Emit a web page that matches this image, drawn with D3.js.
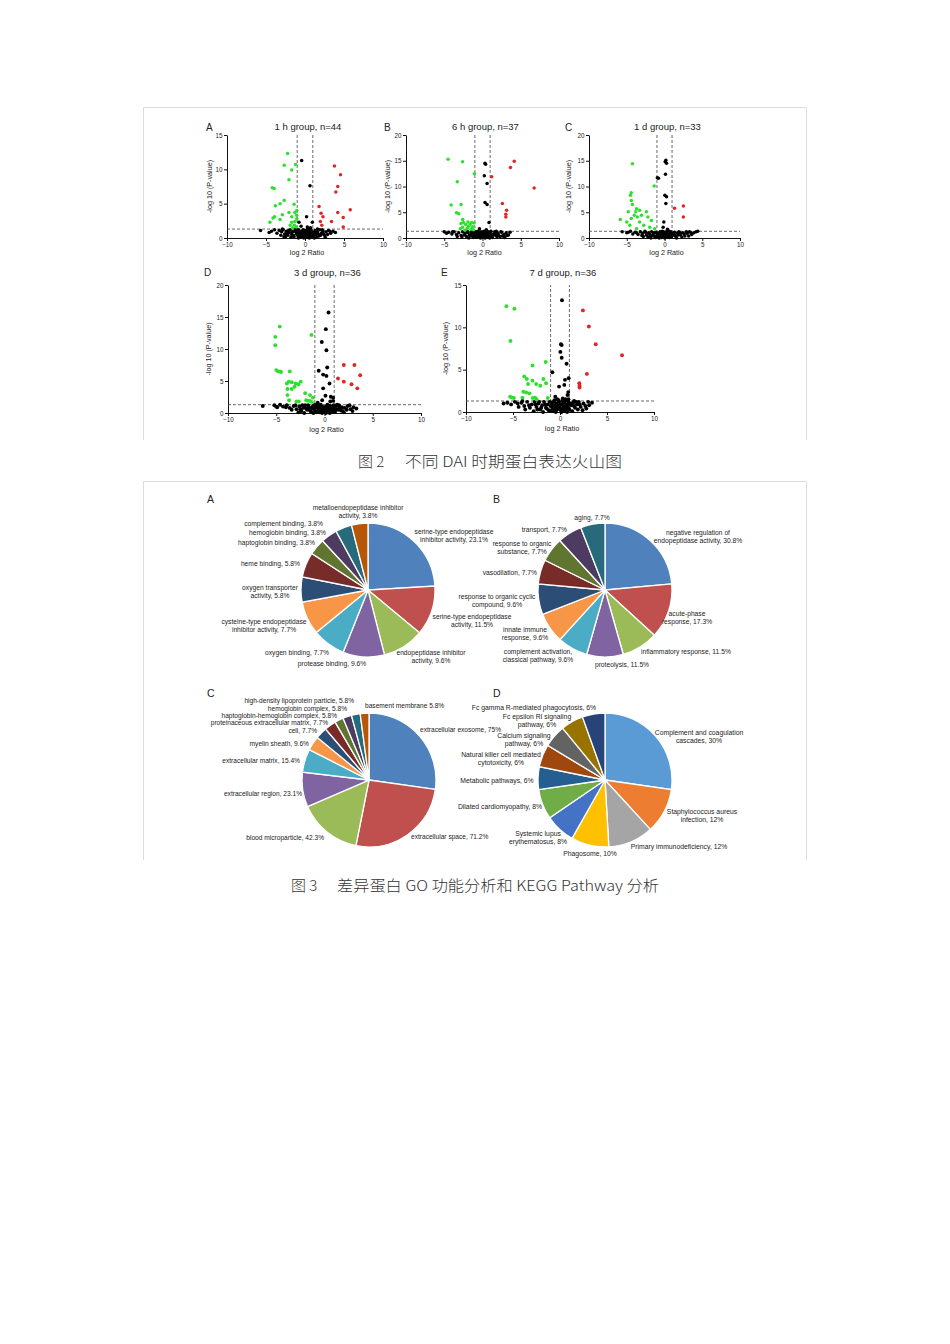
<!DOCTYPE html>
<html>
<head>
<meta charset="utf-8">
<script src="https://cdn.jsdelivr.net/npm/d3@7"></script>
<style>
  body { margin: 0; background: #fff; }
  svg { display: block; }
</style>
</head>
<body>
<script>
// ---------- Figure 2 data: volcano plots ----------
const volcanoLetters = ["A", "B", "C", "D", "E"];
const volcanoTitles = ["1 h group, n=44", "6 h group, n=37", "1 d group, n=33", "3 d group, n=36", "7 d group, n=36"];
const volcanoYMax = [15, 20, 20, 20, 15];
const xTicks = [-10, -5, 0, 5, 10];
const foldCut = 1;        // |log2 ratio| threshold
const pCut = 1.3;         // -log10(0.05)

const greenA = [[-2.23,12.3],[-2.66,10.6],[-1.2,10.7],[-1.7,9.9],[-2.06,8.5],[-4.2,7.3],[-3.95,7.2],[-2.66,5.5],[-3.2,5.0],[-3.8,4.7],[-1.4,4.9],[-1.05,4.0],[-2.06,3.7],[-2.9,3.4],[-1.3,3.7],[-3.9,3.1],[-4.1,2.9],[-1.7,3.1],[-1.07,3.3],[-4.5,2.3],[-3.2,2.7],[-1.7,2.3],[-1.3,2.4],[-1.9,1.85],[-1.37,1.85],[-1.05,2.8],[-1.1,1.6],[-1.6,1.5]];
const redA = [[3.78,10.5],[4.55,9.2],[4.2,7.5],[3.95,6.7],[1.8,4.6],[5.8,4.1],[4.2,3.7],[2.06,3.6],[2.3,3.1],[4.9,3.0],[1.97,2.4],[3.4,2.4],[2.15,1.85],[4.9,1.6]];
const blackA = [[-0.43,11.3],[0.64,7.6],[0.2,3.1],[-0.77,2.3],[0.94,2.3],[-0.5,1.7],[0.3,1.6],[0.7,1.5],
  [-5.7,1.1],[-4.6,0.8],[-4.3,1.0],[-3.9,1.2],[-3.6,0.7],[-3.3,1.1],[-3.0,0.9],[-2.8,1.2],[-2.6,0.6],[-2.4,1.0],[-2.2,0.4],[-2.0,0.8],[-1.9,1.2],[-1.7,0.5],[-1.6,0.9],[-1.4,0.2],[-1.3,1.1],[-1.1,0.6],[-1.0,0.9],[-0.9,0.3],[-0.8,1.2],[-0.7,0.7],[-0.6,0.1],[-0.5,0.5],[-0.4,1.0],[-0.3,0.3],[-0.2,0.8],[-0.1,0.4],[0.0,1.1],[0.1,0.2],[0.2,0.6],[0.3,0.9],[0.4,0.4],[0.5,1.2],[0.6,0.2],[0.7,0.7],[0.8,1.0],[0.9,0.5],[1.0,0.3],[1.1,0.8],[1.3,1.1],[1.4,0.5],[1.6,0.9],[1.8,0.3],[1.9,1.2],[2.1,0.7],[2.3,1.0],[2.5,0.4],[2.7,0.9],[3.0,1.1],[3.3,0.7],[3.6,1.0],[3.9,0.8],[-1.2,1.3],[-2.9,1.3],[1.6,1.3],
  [-2.5,0.2],[-2.3,0.7],[-2.1,1.1],[-1.8,0.1],[-1.5,0.4],[-1.2,0.9],[-0.95,0.5],[-0.85,0.0],[-0.65,0.9],[-0.55,0.3],[-0.35,0.6],[-0.25,1.2],[-0.15,0.0],[-0.05,0.7],[0.05,0.5],[0.15,1.0],[0.25,0.1],[0.35,0.6],[0.45,0.9],[0.55,0.0],[0.65,0.5],[0.75,1.2],[0.85,0.3],[0.95,0.8],[1.05,0.1],[1.2,0.5],[1.35,0.8],[1.5,0.1],[1.7,0.6],[2.0,0.4],[2.2,1.2],[2.4,0.6],[2.6,0.1],[2.9,0.5],[3.2,1.0],[-3.1,0.4],[-2.7,0.2],[-1.0,1.2],[0.3,1.3],[1.2,0.0]];

const greenB = [[-4.5,15.3],[-2.6,14.8],[-1.06,12.5],[-3.3,10.9],[-4.1,6.4],[-2.8,6.5],[-3.4,4.9],[-3.1,4.7],[-2.6,3.6],[-2.8,2.8],[-2.5,3.0],[-2.2,2.6],[-1.9,3.1],[-1.6,2.7],[-1.3,2.2],[-2.6,2.1],[-2.0,1.9],[-1.5,1.7],[-1.2,1.6],[-2.9,1.8],[-2.3,1.5],[-1.8,2.3],[-1.1,2.9],[-1.4,3.0]];
const redB = [[4.15,14.9],[3.65,13.7],[1.2,11.9],[6.75,9.7],[2.6,6.7],[3.15,5.4],[3.05,4.6],[3.05,4.1]];
const blackB = [[0.33,14.5],[0.4,14.3],[0.24,12.1],[0.6,10.6],[0.33,6.9],[0.6,6.5],[0.85,3.0],[-0.4,1.8],[0.5,1.6],
  [-5.0,1.2],[-4.7,0.9],[-4.4,1.1],[-4.0,0.8],[-3.7,1.2],[-3.4,0.7],[-3.1,1.0],[-2.8,0.5],[-2.6,1.2],[-2.3,0.8],[-2.1,0.3],[-1.9,1.0],[-1.7,0.6],[-1.5,1.2],[-1.3,0.4],[-1.1,0.9],[-1.0,0.2],[-0.9,0.7],[-0.8,1.1],[-0.6,0.4],[-0.5,0.9],[-0.4,0.1],[-0.3,0.6],[-0.2,1.2],[-0.1,0.3],[0.0,0.8],[0.1,0.5],[0.2,1.0],[0.3,0.2],[0.4,0.7],[0.5,1.1],[0.6,0.4],[0.7,0.9],[0.8,0.2],[0.9,0.6],[1.0,1.0],[1.2,0.4],[1.4,0.8],[1.6,1.2],[1.8,0.5],[2.0,0.9],[2.3,0.3],[2.5,1.1],[2.8,0.7],[3.1,1.0],[3.4,0.6],[3.6,1.1],[-2.0,1.3],[1.1,1.3],
  [-2.7,0.2],[-2.4,0.6],[-2.2,1.1],[-1.8,0.0],[-1.6,0.4],[-1.4,0.9],[-1.2,0.1],[-0.95,0.5],[-0.85,1.2],[-0.7,0.2],[-0.55,0.6],[-0.45,1.1],[-0.25,0.0],[-0.15,0.8],[0.05,0.4],[0.15,1.2],[0.25,0.6],[0.35,0.0],[0.45,0.9],[0.55,0.3],[0.65,0.7],[0.75,1.2],[0.85,0.4],[0.95,0.0],[1.1,0.6],[1.3,0.1],[1.5,0.6],[1.7,1.0],[1.9,0.2],[2.1,0.6],[2.4,1.2],[2.6,0.4],[2.9,0.1],[3.2,0.5],[-3.3,0.3],[-3.9,1.2],[-0.6,1.3],[0.2,1.3],[-1.3,1.3],[1.8,1.3]];

const greenC = [[-4.25,14.4],[-1.37,10.1],[-4.4,8.8],[-4.5,8.3],[-4.4,7.3],[-4.25,6.5],[-4.8,5.1],[-3.7,5.7],[-3.8,5.1],[-3.3,5.4],[-2.4,5.1],[-5.85,3.6],[-5.0,3.1],[-4.0,4.4],[-3.6,4.1],[-3.05,4.4],[-4.4,3.8],[-3.3,3.1],[-2.2,4.1],[-1.73,3.4],[-2.74,2.5],[-1.95,2.1],[-4.6,2.5],[-1.3,1.8],[-3.7,1.8]];
const redC = [[1.33,5.8],[2.5,6.2],[2.5,4.1]];
const blackC = [[0.18,15.1],[0.09,14.8],[0.27,14.5],[-0.95,11.7],[-0.8,11.6],[0.13,12.4],[0.05,8.3],[0.27,8.0],[0.18,6.7],[-0.09,3.1],[-0.18,2.1],[0.4,1.7],
  [-5.6,1.2],[-5.0,1.0],[-4.5,1.3],[-4.2,0.8],[-3.9,1.1],[-3.5,0.7],[-3.2,1.2],[-2.9,0.9],[-2.6,1.3],[-2.4,0.6],[-2.1,1.0],[-1.9,0.4],[-1.7,1.2],[-1.5,0.8],[-1.3,0.3],[-1.1,1.1],[-1.0,0.6],[-0.9,0.2],[-0.8,0.9],[-0.6,1.2],[-0.5,0.5],[-0.4,0.1],[-0.3,0.8],[-0.2,1.1],[-0.1,0.4],[0.0,0.7],[0.1,0.2],[0.2,1.0],[0.3,0.5],[0.4,1.2],[0.5,0.3],[0.6,0.8],[0.7,1.1],[0.8,0.4],[0.9,0.9],[1.1,0.6],[1.3,1.1],[1.5,0.3],[1.7,0.9],[1.9,1.2],[2.1,0.6],[2.4,1.0],[2.7,0.4],[3.0,0.9],[3.3,1.2],[3.6,0.7],[3.9,1.0],[4.2,1.2],[4.4,1.3],
  [-2.8,0.3],[-2.5,1.1],[-2.2,0.2],[-2.0,0.8],[-1.8,0.0],[-1.6,0.5],[-1.4,1.0],[-1.2,0.1],[-0.95,0.9],[-0.85,0.4],[-0.7,0.0],[-0.55,0.9],[-0.45,0.3],[-0.25,0.5],[-0.15,1.2],[0.05,0.0],[0.15,0.6],[0.25,1.2],[0.35,0.2],[0.45,0.7],[0.55,1.0],[0.65,0.1],[0.75,0.6],[0.85,1.2],[0.95,0.3],[1.2,0.9],[1.4,0.5],[1.6,0.0],[1.8,0.6],[2.0,1.0],[2.3,0.2],[2.6,0.8],[2.9,1.2],[3.2,0.4],[3.5,1.0],[-3.0,0.5],[-3.7,1.0],[-4.8,1.1],[-0.3,1.3],[0.6,1.3]];

const greenD = [[-4.64,13.5],[-5.1,11.9],[-5.1,10.6],[-1.35,12.2],[-5.0,6.7],[-4.8,6.5],[-4.6,6.5],[-4.5,6.4],[-3.6,6.5],[-3.9,4.6],[-3.7,4.9],[-3.4,4.8],[-3.0,4.6],[-2.46,4.9],[-2.7,4.5],[-3.84,3.75],[-3.4,3.75],[-3.1,4.1],[-2.0,3.1],[-1.5,2.8],[-3.84,2.8],[-3.67,2.0],[-2.9,1.8],[-2.66,1.8],[-1.9,2.0],[-1.7,1.9],[-1.5,1.9],[-1.3,1.7],[-1.2,2.4]];
const redD = [[2.0,7.5],[3.1,7.5],[3.7,5.9],[1.4,5.4],[2.0,4.9],[2.8,4.5],[3.4,3.85]];
const blackD = [[0.42,15.7],[0.14,13.1],[-0.28,11.1],[0.2,9.8],[0.28,7.1],[-0.6,6.6],[-0.14,6.0],[0.2,5.8],[0.52,4.6],[-0.14,3.85],[0.1,2.7],[0.66,2.55],[0.9,2.4],[-0.24,2.0],[0.6,1.8],[-0.7,1.6],[0.9,1.9],
  [-6.4,1.1],[-5.2,1.2],[-4.9,0.9],[-4.6,1.3],[-4.3,1.0],[-3.9,1.2],[-3.6,0.8],[-3.2,1.1],[-2.9,0.6],[-2.6,1.0],[-2.4,0.3],[-2.2,0.8],[-2.0,1.2],[-1.8,0.5],[-1.6,0.9],[-1.4,0.2],[-1.2,1.1],[-1.1,0.6],[-0.9,0.3],[-0.8,0.9],[-0.7,1.2],[-0.6,0.5],[-0.5,0.1],[-0.4,0.8],[-0.3,1.1],[-0.2,0.4],[-0.1,0.7],[0.0,0.2],[0.1,1.0],[0.2,0.5],[0.3,1.3],[0.4,0.3],[0.5,0.8],[0.6,1.1],[0.7,0.4],[0.8,0.9],[0.9,0.2],[1.0,0.7],[1.2,1.1],[1.4,0.5],[1.6,0.9],[1.9,0.3],[2.1,0.8],[2.4,1.1],[2.7,0.6],[3.0,0.9],[3.3,0.7],[-1.0,1.3],[1.3,1.3],
  [-2.7,0.1],[-2.5,0.6],[-2.3,1.2],[-2.1,0.0],[-1.9,0.7],[-1.7,1.2],[-1.5,0.4],[-1.3,0.8],[-1.15,0.0],[-0.95,1.0],[-0.85,0.1],[-0.65,0.7],[-0.55,1.0],[-0.45,0.3],[-0.25,0.0],[-0.15,0.9],[0.05,0.6],[0.15,0.0],[0.25,0.8],[0.35,0.4],[0.45,1.1],[0.55,0.0],[0.65,0.6],[0.75,1.0],[0.85,0.5],[0.95,1.2],[1.1,0.2],[1.3,0.6],[1.5,1.2],[1.7,0.4],[1.8,0.9],[2.0,0.1],[2.3,0.5],[2.6,1.2],[2.9,0.3],[-3.0,1.2],[-3.4,0.5],[-4.0,0.9],[-5.0,1.0],[-0.4,1.3]];

const greenE = [[-5.7,12.5],[-4.85,12.2],[-5.27,8.4],[-2.93,5.5],[-1.52,5.9],[-3.8,4.2],[-3.53,3.9],[-2.93,3.7],[-1.77,3.9],[-2.54,3.3],[-2.1,3.1],[-1.48,3.4],[-3.4,3.3],[-3.9,2.4],[-3.6,2.3],[-3.25,2.2],[-5.3,1.8],[-5.1,1.7],[-4.9,1.65],[-4.0,1.7],[-2.9,1.65],[-2.65,1.7],[-2.5,1.5],[-1.3,1.65]];
const redE = [[2.44,12.0],[3.07,10.1],[3.8,8.0],[6.6,6.7],[2.86,4.5],[2.05,3.4],[2.08,3.1],[2.08,2.9]];
const blackE = [[0.21,13.2],[0.1,8.0],[0.18,7.9],[0.04,7.1],[0.18,6.4],[0.7,5.7],[-0.81,4.7],[0.92,4.0],[0.53,3.8],[-0.1,3.0],[0.46,3.2],[0.88,2.35],[0.8,2.0],[-0.5,1.8],[0.3,1.6],[0.9,1.5],[-0.3,1.5],
  [-6.0,1.0],[-5.6,1.1],[-5.2,0.9],[-4.8,1.2],[-4.5,1.0],[-4.1,1.1],[-3.8,0.7],[-3.5,1.2],[-3.2,0.5],[-3.0,0.9],[-2.7,1.2],[-2.5,0.6],[-2.3,1.0],[-2.1,0.3],[-1.9,0.8],[-1.7,1.2],[-1.5,0.5],[-1.3,0.9],[-1.2,0.2],[-1.0,0.7],[-0.9,1.1],[-0.8,0.4],[-0.7,0.8],[-0.6,0.1],[-0.5,0.6],[-0.4,1.0],[-0.3,0.3],[-0.2,0.8],[-0.1,1.2],[0.0,0.5],[0.1,0.2],[0.2,0.9],[0.3,0.4],[0.4,1.1],[0.5,0.6],[0.6,0.2],[0.7,0.9],[0.8,0.5],[0.9,1.2],[1.0,0.3],[1.2,0.8],[1.4,1.1],[1.6,0.5],[1.8,0.9],[2.0,1.2],[2.2,0.6],[2.5,1.0],[2.8,0.4],[3.1,0.8],[3.4,1.1],[-4.0,1.3],[1.5,1.3],
  [-2.8,0.1],[-2.6,0.9],[-2.4,0.3],[-2.2,1.2],[-2.0,0.5],[-1.8,0.0],[-1.6,0.9],[-1.4,0.4],[-1.1,1.2],[-0.95,0.1],[-0.85,0.7],[-0.65,1.2],[-0.55,0.3],[-0.45,0.0],[-0.25,0.6],[-0.15,1.4],[0.05,0.9],[0.15,0.0],[0.25,1.3],[0.35,0.7],[0.45,0.1],[0.55,1.3],[0.65,0.5],[0.75,0.0],[0.85,0.8],[0.95,0.4],[1.1,1.0],[1.3,0.1],[1.5,0.7],[1.7,1.2],[1.9,0.3],[2.1,0.9],[2.4,0.2],[2.7,0.7],[3.0,1.2],[-3.3,0.8],[-3.7,0.3],[-4.4,0.6],[-0.6,1.4],[0.6,1.5]];

const volcanoGreen = [greenA, greenB, greenC, greenD, greenE];
const volcanoRed = [redA, redB, redC, redD, redE];
const volcanoBlack = [blackA, blackB, blackC, blackD, blackE];

// ---------- Figure 3 data: GO / KEGG pies ----------
const pieAValues = [23.1, 11.5, 9.6, 9.6, 7.7, 7.7, 5.8, 5.8, 3.8, 3.8, 3.8, 3.8];
const pieALabels = ["serine-type endopeptidase|inhibitor activity, 23.1%", "serine-type endopeptidase|activity, 11.5%", "endopeptidase inhibitor|activity, 9.6%", "protease binding, 9.6%", "oxygen binding, 7.7%", "cysteine-type endopeptidase|inhibitor activity, 7.7%", "oxygen transporter|activity, 5.8%", "heme binding, 5.8%", "haptoglobin binding, 3.8%", "hemoglobin binding, 3.8%", "complement binding, 3.8%", "metalloendopeptidase inhibitor|activity, 3.8%"];

const pieBValues = [30.8, 17.3, 11.5, 11.5, 9.6, 9.6, 9.6, 7.7, 7.7, 7.7, 7.7];
const pieBLabels = ["negative regulation of|endopeptidase activity, 30.8%", "acute-phase|response, 17.3%", "inflammatory response, 11.5%", "proteolysis, 11.5%", "complement activation,|classical pathway, 9.6%", "innate immune|response, 9.6%", "response to organic cyclic|compound, 9.6%", "vasodilation, 7.7%", "response to organic|substance, 7.7%", "transport, 7.7%", "aging, 7.7%"];

const pieCValues = [75, 71.2, 42.3, 23.1, 15.4, 9.6, 7.7, 7.7, 5.8, 5.8, 5.8, 5.8];
const pieCLabels = ["extracellular exosome, 75%", "extracellular space, 71.2%", "blood microparticle, 42.3%", "extracellular region, 23.1%", "extracellular matrix, 15.4%", "myelin sheath, 9.6%", "cell, 7.7%", "proteinaceous extracellular matrix, 7.7%", "haptoglobin-hemoglobin complex, 5.8%", "hemoglobin complex, 5.8%", "high-density lipoprotein particle, 5.8%", "basement membrane 5.8%"];

const pieDValues = [30, 12, 12, 10, 8, 8, 6, 6, 6, 6, 6];
const pieDLabels = ["Complement and coagulation|cascades, 30%", "Staphylococcus aureus|infection, 12%", "Primary immunodeficiency, 12%", "Phagosome, 10%", "Systemic lupus|erythematosus, 8%", "Dilated cardiomyopathy, 8%", "Metabolic pathways, 6%", "Natural killer cell mediated|cytotoxicity, 6%", "Calcium signaling|pathway, 6%", "Fc epsilon RI signaling|pathway, 6%", "Fc gamma R-mediated phagocytosis, 6%"];

// office-style palettes
const officeOld = ["#4F81BD", "#C0504D", "#9BBB59", "#8064A2", "#4BACC6", "#F79646", "#2C4D75", "#772C2A", "#5F7530", "#4D3B62", "#276A7C", "#B65708"];
const officeNew = ["#5B9BD5", "#ED7D31", "#A5A5A5", "#FFC000", "#4472C4", "#70AD47", "#255E91", "#9E480E", "#636363", "#997300", "#264478"];

const captions2 = ["图 2", "不同 DAI 时期蛋白表达火山图"];
const captions3 = ["图 3", "差异蛋白 GO 功能分析和 KEGG Pathway 分析"];

// ---------- layout ----------
const W = 950, H = 1344;
const svg = d3.select("body").append("svg").attr("width", W).attr("height", H);
const font = "'Liberation Sans', Arial, sans-serif";
const txtColor = "#222";

// frames around the two figures
function frame(x0, x1, y0, y1) {
  const g = svg.append("g").attr("stroke", "#dcdcdc").attr("fill", "none");
  g.append("path").attr("d", `M${x0},${y1}V${y0}H${x1}V${y1}`);
}
frame(143.5, 806.5, 107.5, 440);
frame(143.5, 806.5, 481.5, 860);

// volcano panels (screen boxes)
const volcanoBoxes = [
  { x0: 227, x1: 383, y0: 238, y1: 135, lx: 206, ly: 131, yl: 212, ty: 130, xl: 255 },
  { x0: 406, x1: 559, y0: 238, y1: 135, lx: 384, ly: 131, yl: 390, ty: 130, xl: 255 },
  { x0: 589, x1: 740, y0: 238, y1: 135, lx: 565, ly: 131, yl: 571, ty: 130, xl: 255 },
  { x0: 228, x1: 421, y0: 413, y1: 285, lx: 204, ly: 276, yl: 211, ty: 276, xl: 432 },
  { x0: 466, x1: 654, y0: 412, y1: 285, lx: 441, ly: 276, yl: 448, ty: 276, xl: 431 }
];

volcanoBoxes.forEach((b, i) => {
  const g = svg.append("g");
  const x = d3.scaleLinear().domain([-10, 10]).range([b.x0, b.x1]);
  const y = d3.scaleLinear().domain([0, volcanoYMax[i]]).range([b.y0, b.y1]);
  const yTicks = d3.range(0, volcanoYMax[i] + 1, 5);

  const xa = g.append("g").attr("transform", `translate(0,${b.y0})`)
    .call(d3.axisBottom(x).tickValues(xTicks).tickSize(3).tickSizeOuter(0).tickPadding(1.5));
  const ya = g.append("g").attr("transform", `translate(${b.x0},0)`)
    .call(d3.axisLeft(y).tickValues(yTicks).tickSize(3).tickSizeOuter(0).tickPadding(1.5));
  [xa, ya].forEach(a => {
    a.selectAll("path,line").attr("stroke", "#111").attr("stroke-width", 1);
    a.selectAll("text").attr("font-family", font).attr("font-size", 6.3).attr("fill", txtColor);
  });

  // threshold lines
  const dash = g.append("g").attr("stroke", "#444").attr("stroke-width", 0.8).attr("stroke-dasharray", "3,2");
  dash.append("line").attr("x1", x(-foldCut)).attr("x2", x(-foldCut)).attr("y1", y(0)).attr("y2", y(volcanoYMax[i]));
  dash.append("line").attr("x1", x(foldCut)).attr("x2", x(foldCut)).attr("y1", y(0)).attr("y2", y(volcanoYMax[i]));
  dash.append("line").attr("x1", x(-10)).attr("x2", x(10)).attr("y1", y(pCut)).attr("y2", y(pCut));

  const r = i < 3 ? 1.75 : 1.95;
  [[volcanoBlack[i], "#000"], [volcanoGreen[i], "#2ee02e"], [volcanoRed[i], "#e02525"]].forEach(([pts, c]) => {
    g.append("g").selectAll("circle").data(pts).join("circle")
      .attr("cx", d => x(d[0])).attr("cy", d => y(d[1])).attr("r", r).attr("fill", c);
  });

  g.append("text").attr("x", (b.x0 + b.x1) / 2 + 3).attr("y", b.ty).attr("text-anchor", "middle")
    .attr("font-family", font).attr("font-size", 9.5).attr("fill", txtColor).text(volcanoTitles[i]);
  g.append("text").attr("x", b.lx).attr("y", b.ly).attr("font-family", font).attr("font-size", 10)
    .attr("fill", txtColor).text(volcanoLetters[i]);
  g.append("text").attr("x", (b.x0 + b.x1) / 2 + 2).attr("y", b.xl).attr("text-anchor", "middle")
    .attr("font-family", font).attr("font-size", 7.2).attr("fill", txtColor).text("log 2 Ratio");
  g.append("text").attr("transform", `translate(${b.yl},${(b.y0 + b.y1) / 2}) rotate(-90)`)
    .attr("text-anchor", "middle").attr("font-family", font).attr("font-size", 7.2).attr("fill", txtColor)
    .text("-log 10 (P-value)");
});

// pies
const pieBoxes = [
  { cx: 368, cy: 590, r: 67, letter: "A", lx: 207, ly: 503, fs: 6.7,
    pos: [[454,534,"middle"],[472,619,"middle"],[431,655,"middle"],[332,666,"middle"],[297,655,"middle"],[264,624,"middle"],[270,590,"middle"],[300,566,"end"],[315,545,"end"],[326,535,"end"],[323,526,"end"],[358,510,"middle"]] },
  { cx: 605, cy: 590, r: 67, letter: "B", lx: 493, ly: 503, fs: 6.7,
    pos: [[698,535,"middle"],[687,616,"middle"],[641,654,"start"],[622,667,"middle"],[538,654,"middle"],[525,632,"middle"],[497,599,"middle"],[537,575,"end"],[522,546,"middle"],[567,532,"end"],[592,520,"middle"]] },
  { cx: 369, cy: 780, r: 67, letter: "C", lx: 207, ly: 697, fs: 6.6,
    pos: [[420,732,"start"],[411,839,"start"],[324,840,"end"],[302,796,"end"],[300,763,"end"],[309,746,"end"],[317,733,"end"],[328,725,"end"],[337,718,"end"],[347,711,"end"],[354,703,"end"],[365,708,"start"]] },
  { cx: 605, cy: 780, r: 67, letter: "D", lx: 493, ly: 697, fs: 6.8,
    pos: [[699,735,"middle"],[702,814,"middle"],[679,849,"middle"],[590,856,"middle"],[538,836,"middle"],[500,809,"middle"],[497,783,"middle"],[501,757,"middle"],[524,738,"middle"],[537,719,"middle"],[534,710,"middle"]] }
];
const pieValues = [pieAValues, pieBValues, pieCValues, pieDValues];
const pieLabels = [pieALabels, pieBLabels, pieCLabels, pieDLabels];
const piePalettes = [officeOld, officeOld, officeOld, officeNew];

pieBoxes.forEach((p, i) => {
  const g = svg.append("g");
  const arcs = d3.pie().sort(null).value(d => d)(pieValues[i]);
  const arc = d3.arc().innerRadius(0).outerRadius(p.r);
  g.append("g").attr("transform", `translate(${p.cx},${p.cy})`)
    .selectAll("path").data(arcs).join("path")
    .attr("d", arc).attr("fill", (d, j) => piePalettes[i][j])
    .attr("stroke", "#fff").attr("stroke-width", 1.3);

  g.append("text").attr("x", p.lx).attr("y", p.ly).attr("font-family", font).attr("font-size", 10.5)
    .attr("fill", txtColor).text(p.letter);

  pieLabels[i].forEach((lab, j) => {
    const [lx, ly, anchor] = p.pos[j];
    const t = g.append("text").attr("x", lx).attr("y", ly).attr("text-anchor", anchor)
      .attr("font-family", font).attr("font-size", p.fs).attr("fill", txtColor);
    lab.split("|").forEach((line, k) => {
      t.append("tspan").attr("x", lx).attr("dy", k === 0 ? 0 : 8.2).text(line);
    });
  });
});

// captions
const capFont = "'Noto Sans CJK SC', sans-serif";
function caption(parts, x0, x1, x2, yb) {
  svg.append("text").attr("x", x0).attr("y", yb).attr("font-family", capFont).attr("font-size", 15)
    .attr("font-weight", 300).attr("fill", "#333").text(parts[0]);
  svg.append("text").attr("x", x1).attr("y", yb).attr("font-family", capFont).attr("font-size", 15)
    .attr("font-weight", 300).attr("fill", "#333")
    .attr("textLength", x2 - x1).attr("lengthAdjust", "spacingAndGlyphs").text(parts[1]);
}
caption(captions2, 358, 405, 622, 467);
caption(captions3, 291, 337, 659, 891);
</script>
</body>
</html>
